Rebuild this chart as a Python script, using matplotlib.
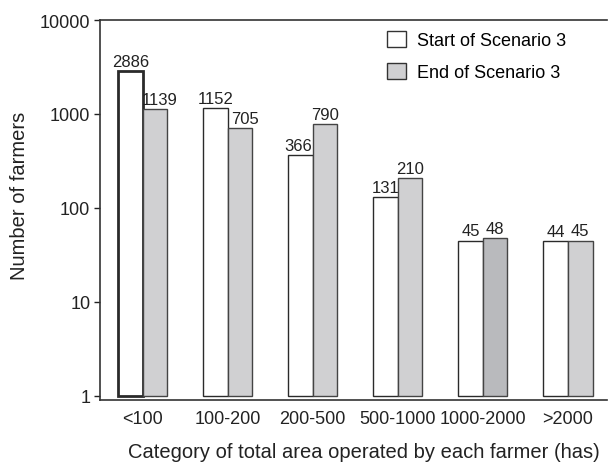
import matplotlib
matplotlib.use("Agg")
import matplotlib.pyplot as plt
from matplotlib.patches import Patch
import numpy as np

plt.rcParams['font.family'] = ['Liberation Sans', 'DejaVu Sans']

categories = ["<100", "100-200", "200-500", "500-1000", "1000-2000", ">2000"]
start_vals = [2886, 1152, 366, 131, 45, 44]
end_vals = [1139, 705, 790, 210, 48, 45]
ytick_vals = [1, 10, 100, 1000, 10000]
ytick_labels = ["1", "10", "100", "1000", "10000"]

W, H = 608, 464
fig = plt.figure(figsize=(W / 100, H / 100), dpi=100)
ax = fig.add_axes([100 / W, 1 - 401 / H, 507 / W, 380 / H])

x = np.arange(len(categories))
w = 0.29
edge = "#2a2a2a"
light = "#d0d0d2"
dark = "#b9babd"
txt = "#222222"

end_colors = [light] * len(categories)
end_colors[4] = dark
start_lw = [1.0] * len(categories)
start_lw[0] = 2.0

ax.bar(x - w / 2, [v - 1 for v in start_vals], bottom=1, width=w,
       color="white", edgecolor=edge, linewidth=start_lw)
ax.bar(x + w / 2, [v - 1 for v in end_vals], bottom=1, width=w,
       color=end_colors, edgecolor="#444444", linewidth=1.0)

# small horizontal nudges (points) so neighbouring labels don't collide
start_dx = [0, 0, -1.5, 0, 0, 0]
end_dx = [3.5, 3.5, 0, 0, 0, 0]
for xs, vals, dxs in ((x - w / 2, start_vals, start_dx),
                      (x + w / 2, end_vals, end_dx)):
    for xi, v, dx in zip(xs, vals, dxs):
        ax.annotate(str(v), (xi, v), xytext=(dx, 1.5), textcoords="offset points",
                    ha="center", va="bottom", fontsize=12, color=txt)

ax.set_yscale("log")
ax.set_ylim(0.905, 10000)
ax.set_xlim(-0.5, 5.46)
ax.set_yticks(ytick_vals)
ax.set_yticklabels(ytick_labels)
ax.yaxis.set_minor_locator(matplotlib.ticker.NullLocator())
ax.set_xticks(x)
ax.set_xticklabels(categories)
ax.tick_params(axis="x", length=0, pad=7, labelsize=13, colors=txt)
ax.tick_params(axis="y", length=4, width=1, pad=3, labelsize=13, colors=txt)

ax.spines["right"].set_visible(False)
for s in ["left", "top", "bottom"]:
    ax.spines[s].set_color("#333333")
    ax.spines[s].set_linewidth(1.2)

fig.text(20 / W, 1 - 196 / H, "Number of farmers", rotation=90,
         ha="center", va="center", fontsize=14.5, color=txt)
fig.text(364 / W, 1 - 458 / H,
         "Category of total area operated by each farmer (has)",
         ha="center", va="baseline", fontsize=14.5, color=txt)

handles = [Patch(facecolor="white", edgecolor="#333333", linewidth=1.0),
           Patch(facecolor=light, edgecolor="#333333", linewidth=1.0)]
ax.legend(handles, ["Start of Scenario 3", "End of Scenario 3"],
          loc="upper left", bbox_to_anchor=(387 / W, 1 - 32 / H),
          bbox_transform=fig.transFigure, frameon=False, fontsize=13,
          handlelength=1.05, handleheight=1.0, handletextpad=0.6,
          labelspacing=0.75, borderpad=0, borderaxespad=0)

fig.savefig("out.png", dpi=100)
